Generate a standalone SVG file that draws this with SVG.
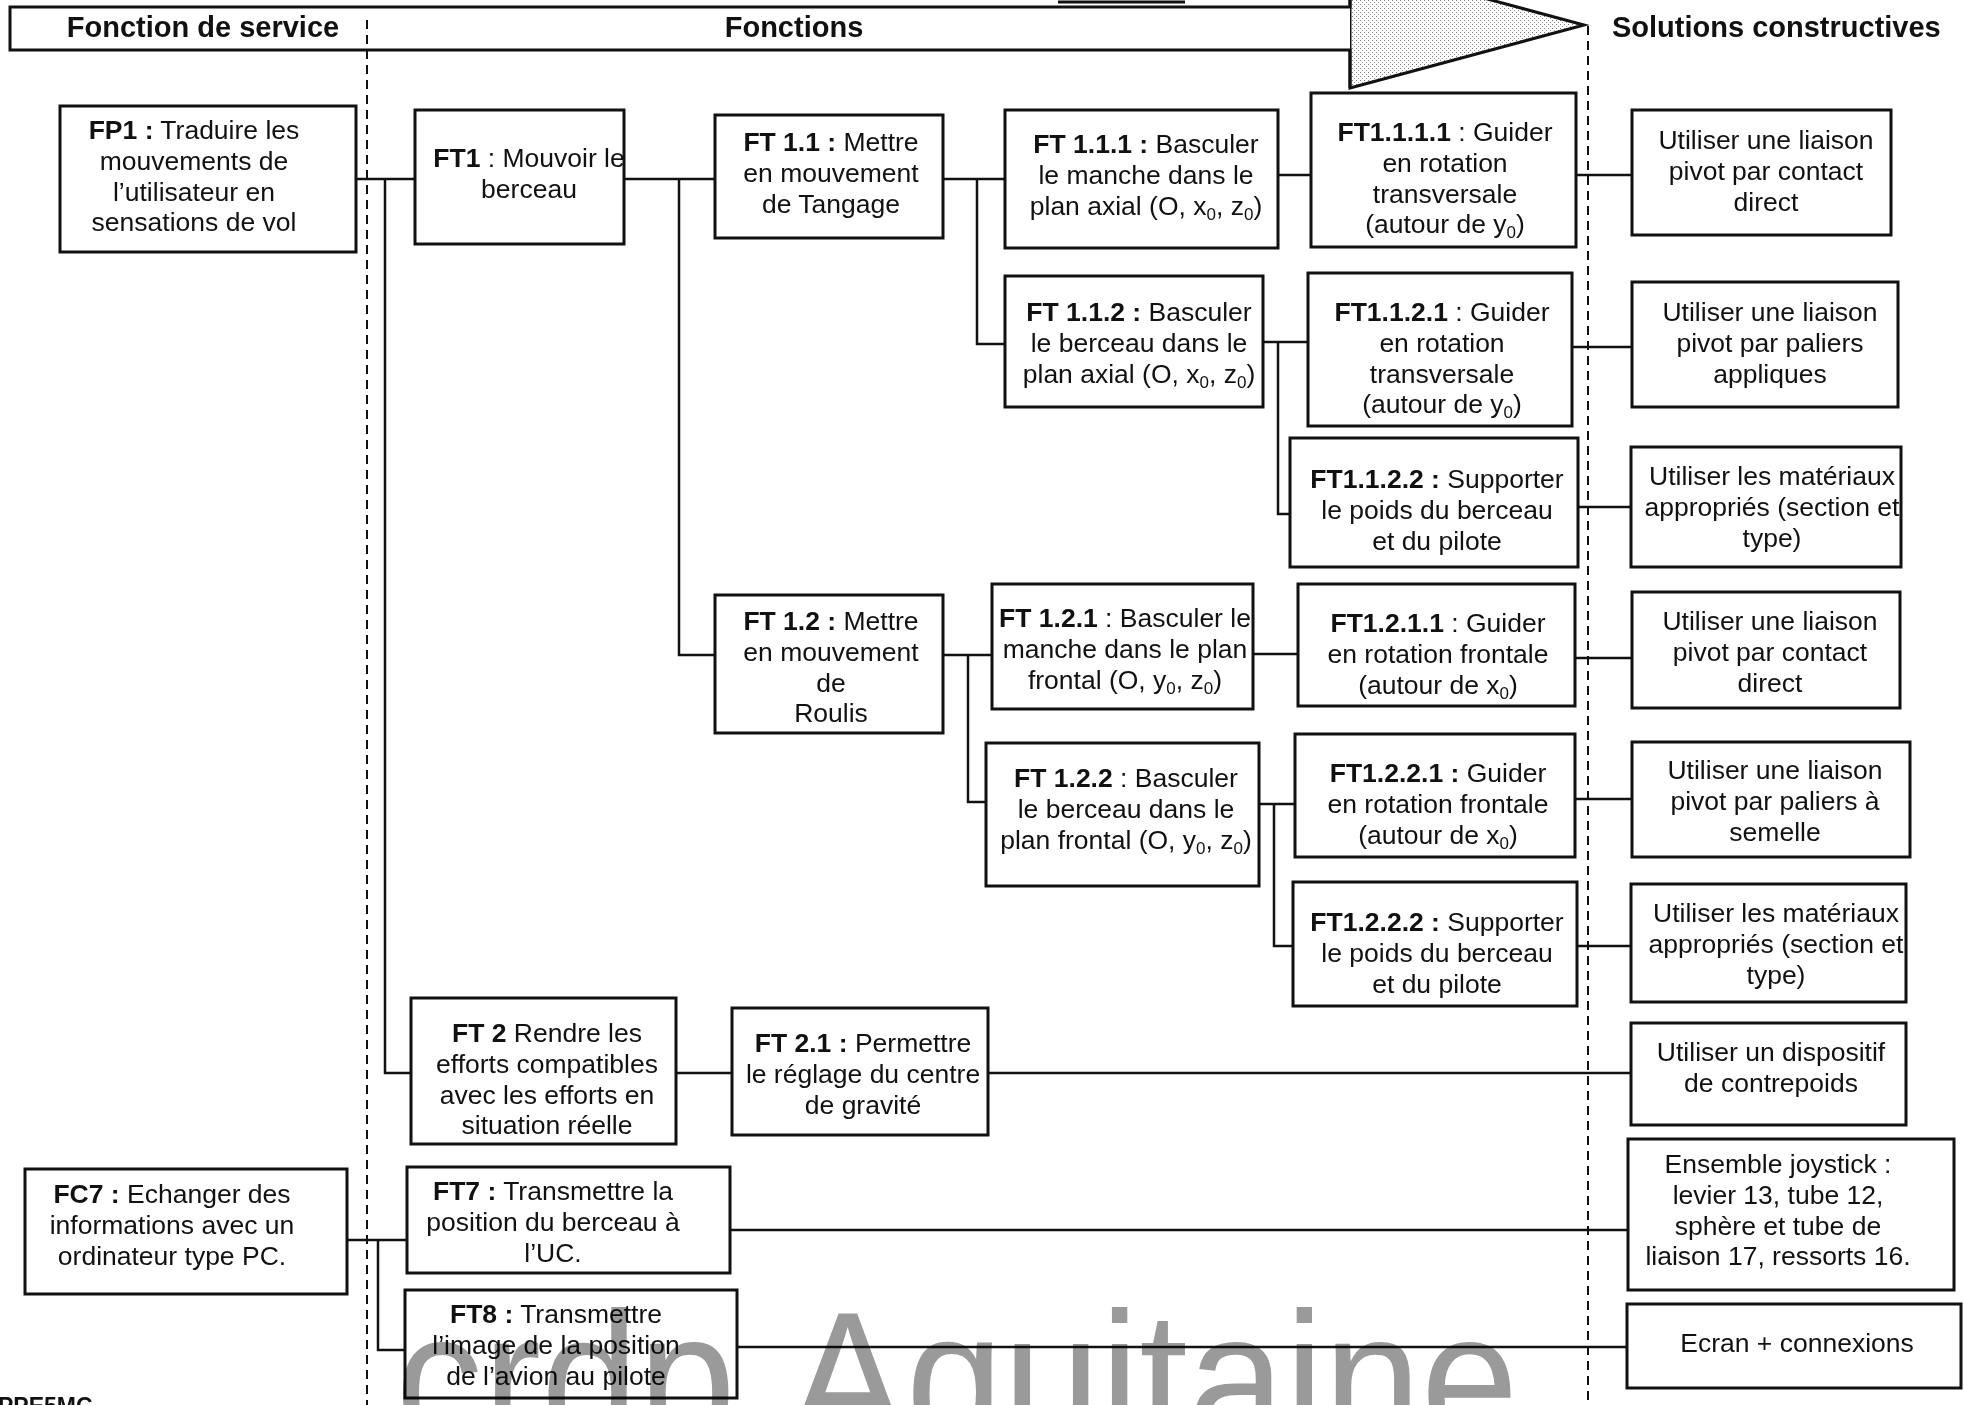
<svg xmlns="http://www.w3.org/2000/svg" width="1964" height="1405" viewBox="0 0 1964 1405">
<style>
.bx{fill:#fff;stroke:#111;stroke-width:3}
.t{font-family:"Liberation Sans",Arial,sans-serif;font-size:26.5px;text-anchor:middle;fill:#111}
.b{font-weight:bold}
.sub{font-size:17px}
.h{font-family:"Liberation Sans",Arial,sans-serif;font-size:29px;font-weight:bold;fill:#111}
.c{fill:none;stroke:#111;stroke-width:2.5}
.d{fill:none;stroke:#111;stroke-width:2;stroke-dasharray:9 6}
.wm{font-family:"Liberation Sans",Arial,sans-serif;font-size:190px;fill:#9a9a9a;mix-blend-mode:multiply}
</style>
<defs>
<pattern id="stip" width="4" height="4" patternUnits="userSpaceOnUse">
<rect width="4" height="4" fill="#fff"/>
<rect x="0" y="0" width="1" height="1" fill="#777"/>
<rect x="2" y="2" width="1" height="1" fill="#999"/>
</pattern>
</defs>
<rect width="1964" height="1405" fill="#fff"/>

<g id="header">
<polygon points="1350,-38 1584,25 1350,88" fill="url(#stip)" stroke="#111" stroke-width="3"/>
<path d="M1350,-38 L1350,7 L10,7 L10,50 L1350,50 L1350,88" fill="#fff" stroke="#111" stroke-width="3"/>
<line x1="1058" y1="2" x2="1185" y2="2" stroke="#111" stroke-width="3"/>
<text class="h" x="203" y="37" text-anchor="middle">Fonction de service</text>
<text class="h" x="794" y="37" text-anchor="middle">Fonctions</text>
<text class="h" x="1612" y="37">Solutions constructives</text>
<line class="d" x1="367" y1="20" x2="367" y2="1405"/>
<line class="d" x1="1588" y1="26" x2="1588" y2="1405"/>
</g>

<g id="connectors">
<path class="c" d="M356,179 H415 M385,179 V1073 H411"/>
<path class="c" d="M624,179 H715 M679,179 V655 H715"/>
<path class="c" d="M943,179 H1005 M977,179 V344 H1005"/>
<path class="c" d="M1278,175 H1311"/>
<path class="c" d="M1576,175 H1632"/>
<path class="c" d="M1263,342 H1308 M1278,342 V514 H1290"/>
<path class="c" d="M1572,347 H1632"/>
<path class="c" d="M1578,507 H1631"/>
<path class="c" d="M943,655 H992 M968,655 V802 H986"/>
<path class="c" d="M1253,654 H1298"/>
<path class="c" d="M1575,658 H1632"/>
<path class="c" d="M1259,804 H1295 M1274,804 V946 H1293"/>
<path class="c" d="M1575,799 H1632"/>
<path class="c" d="M1577,946 H1631"/>
<path class="c" d="M676,1073 H732"/>
<path class="c" d="M988,1073 H1631"/>
<path class="c" d="M347,1240 H407 M378,1240 V1350 H405"/>
<path class="c" d="M730,1230 H1628"/>
<path class="c" d="M737,1347 H1627"/>
</g>

<g id="FP1"><rect class="bx" x="60" y="106" width="296" height="146"/>
<text class="t" x="194" y="139"><tspan class="b">FP1 :</tspan> Traduire les</text>
<text class="t" x="194" y="170">mouvements de</text>
<text class="t" x="194" y="201">l’utilisateur en</text>
<text class="t" x="194" y="231">sensations de vol</text></g>

<g id="FT1"><rect class="bx" x="415" y="110" width="209" height="134"/>
<text class="t" x="529" y="167"><tspan class="b">FT1</tspan> : Mouvoir le</text>
<text class="t" x="529" y="198">berceau</text></g>

<g id="FT1.1"><rect class="bx" x="715" y="115" width="228" height="123"/>
<text class="t" x="831" y="151"><tspan class="b">FT 1.1 :</tspan> Mettre</text>
<text class="t" x="831" y="182">en mouvement</text>
<text class="t" x="831" y="213">de Tangage</text></g>

<g id="FT1.1.1"><rect class="bx" x="1005" y="110" width="273" height="138"/>
<text class="t" x="1146" y="153"><tspan class="b">FT 1.1.1 :</tspan> Basculer</text>
<text class="t" x="1146" y="184">le manche dans le</text>
<text class="t" x="1146" y="215">plan axial (O, x<tspan class="sub" dy="5">0</tspan><tspan dy="-5">, z</tspan><tspan class="sub" dy="5">0</tspan><tspan dy="-5">)</tspan></text></g>

<g id="FT1.1.1.1"><rect class="bx" x="1311" y="93" width="265" height="154"/>
<text class="t" x="1445" y="141"><tspan class="b">FT1.1.1.1</tspan> : Guider</text>
<text class="t" x="1445" y="172">en rotation</text>
<text class="t" x="1445" y="203">transversale</text>
<text class="t" x="1445" y="233">(autour de y<tspan class="sub" dy="5">0</tspan><tspan dy="-5">)</tspan></text></g>

<g id="S1"><rect class="bx" x="1632" y="110" width="259" height="125"/>
<text class="t" x="1766" y="149">Utiliser une liaison</text>
<text class="t" x="1766" y="180">pivot par contact</text>
<text class="t" x="1766" y="211">direct</text></g>

<g id="FT1.1.2"><rect class="bx" x="1005" y="276" width="258" height="131"/>
<text class="t" x="1139" y="321"><tspan class="b">FT 1.1.2 :</tspan> Basculer</text>
<text class="t" x="1139" y="352">le berceau dans le</text>
<text class="t" x="1139" y="383">plan axial (O, x<tspan class="sub" dy="5">0</tspan><tspan dy="-5">, z</tspan><tspan class="sub" dy="5">0</tspan><tspan dy="-5">)</tspan></text></g>

<g id="FT1.1.2.1"><rect class="bx" x="1308" y="273" width="264" height="153"/>
<text class="t" x="1442" y="321"><tspan class="b">FT1.1.2.1</tspan> : Guider</text>
<text class="t" x="1442" y="352">en rotation</text>
<text class="t" x="1442" y="383">transversale</text>
<text class="t" x="1442" y="413">(autour de y<tspan class="sub" dy="5">0</tspan><tspan dy="-5">)</tspan></text></g>

<g id="S2"><rect class="bx" x="1632" y="282" width="266" height="125"/>
<text class="t" x="1770" y="321">Utiliser une liaison</text>
<text class="t" x="1770" y="352">pivot par paliers</text>
<text class="t" x="1770" y="383">appliques</text></g>

<g id="FT1.1.2.2"><rect class="bx" x="1290" y="438" width="288" height="129"/>
<text class="t" x="1437" y="488"><tspan class="b">FT1.1.2.2 :</tspan> Supporter</text>
<text class="t" x="1437" y="519">le poids du berceau</text>
<text class="t" x="1437" y="550">et du pilote</text></g>

<g id="S3"><rect class="bx" x="1631" y="447" width="270" height="120"/>
<text class="t" x="1772" y="485">Utiliser les matériaux</text>
<text class="t" x="1772" y="516">appropriés (section et</text>
<text class="t" x="1772" y="547">type)</text></g>

<g id="FT1.2"><rect class="bx" x="715" y="595" width="228" height="138"/>
<text class="t" x="831" y="630"><tspan class="b">FT 1.2 :</tspan> Mettre</text>
<text class="t" x="831" y="661">en mouvement</text>
<text class="t" x="831" y="692">de</text>
<text class="t" x="831" y="722">Roulis</text></g>

<g id="FT1.2.1"><rect class="bx" x="992" y="584" width="261" height="125"/>
<text class="t" x="1125" y="627"><tspan class="b">FT 1.2.1</tspan> : Basculer le</text>
<text class="t" x="1125" y="658">manche dans le plan</text>
<text class="t" x="1125" y="689">frontal (O, y<tspan class="sub" dy="5">0</tspan><tspan dy="-5">, z</tspan><tspan class="sub" dy="5">0</tspan><tspan dy="-5">)</tspan></text></g>

<g id="FT1.2.1.1"><rect class="bx" x="1298" y="584" width="277" height="122"/>
<text class="t" x="1438" y="632"><tspan class="b">FT1.2.1.1</tspan> : Guider</text>
<text class="t" x="1438" y="663">en rotation frontale</text>
<text class="t" x="1438" y="694">(autour de x<tspan class="sub" dy="5">0</tspan><tspan dy="-5">)</tspan></text></g>

<g id="S4"><rect class="bx" x="1632" y="592" width="268" height="116"/>
<text class="t" x="1770" y="630">Utiliser une liaison</text>
<text class="t" x="1770" y="661">pivot par contact</text>
<text class="t" x="1770" y="692">direct</text></g>

<g id="FT1.2.2"><rect class="bx" x="986" y="743" width="273" height="143"/>
<text class="t" x="1126" y="787"><tspan class="b">FT 1.2.2</tspan> : Basculer</text>
<text class="t" x="1126" y="818">le berceau dans le</text>
<text class="t" x="1126" y="849">plan frontal (O, y<tspan class="sub" dy="5">0</tspan><tspan dy="-5">, z</tspan><tspan class="sub" dy="5">0</tspan><tspan dy="-5">)</tspan></text></g>

<g id="FT1.2.2.1"><rect class="bx" x="1295" y="734" width="280" height="123"/>
<text class="t" x="1438" y="782"><tspan class="b">FT1.2.2.1 :</tspan> Guider</text>
<text class="t" x="1438" y="813">en rotation frontale</text>
<text class="t" x="1438" y="844">(autour de x<tspan class="sub" dy="5">0</tspan><tspan dy="-5">)</tspan></text></g>

<g id="S5"><rect class="bx" x="1632" y="742" width="278" height="115"/>
<text class="t" x="1775" y="779">Utiliser une liaison</text>
<text class="t" x="1775" y="810">pivot par paliers à</text>
<text class="t" x="1775" y="841">semelle</text></g>

<g id="FT1.2.2.2"><rect class="bx" x="1293" y="882" width="284" height="124"/>
<text class="t" x="1437" y="931"><tspan class="b">FT1.2.2.2 :</tspan> Supporter</text>
<text class="t" x="1437" y="962">le poids du berceau</text>
<text class="t" x="1437" y="993">et du pilote</text></g>

<g id="S6"><rect class="bx" x="1631" y="884" width="275" height="118"/>
<text class="t" x="1776" y="922">Utiliser les matériaux</text>
<text class="t" x="1776" y="953">appropriés (section et</text>
<text class="t" x="1776" y="984">type)</text></g>

<g id="FT2"><rect class="bx" x="411" y="998" width="265" height="146"/>
<text class="t" x="547" y="1042"><tspan class="b">FT 2</tspan> Rendre les</text>
<text class="t" x="547" y="1073">efforts compatibles</text>
<text class="t" x="547" y="1104">avec les efforts en</text>
<text class="t" x="547" y="1134">situation réelle</text></g>

<g id="FT2.1"><rect class="bx" x="732" y="1008" width="256" height="127"/>
<text class="t" x="863" y="1052"><tspan class="b">FT 2.1 :</tspan> Permettre</text>
<text class="t" x="863" y="1083">le réglage du centre</text>
<text class="t" x="863" y="1114">de gravité</text></g>

<g id="S7"><rect class="bx" x="1631" y="1023" width="275" height="102"/>
<text class="t" x="1771" y="1061">Utiliser un dispositif</text>
<text class="t" x="1771" y="1092">de contrepoids</text></g>

<g id="FC7"><rect class="bx" x="25" y="1169" width="322" height="125"/>
<text class="t" x="172" y="1203"><tspan class="b">FC7 :</tspan> Echanger des</text>
<text class="t" x="172" y="1234">informations avec un</text>
<text class="t" x="172" y="1265">ordinateur type PC.</text></g>

<g id="FT7"><rect class="bx" x="407" y="1167" width="323" height="106"/>
<text class="t" x="553" y="1200"><tspan class="b">FT7 :</tspan> Transmettre la</text>
<text class="t" x="553" y="1231">position du berceau à</text>
<text class="t" x="553" y="1262">l’UC.</text></g>

<g id="S8"><rect class="bx" x="1628" y="1139" width="326" height="151"/>
<text class="t" x="1778" y="1173">Ensemble joystick :</text>
<text class="t" x="1778" y="1204">levier 13, tube 12,</text>
<text class="t" x="1778" y="1235">sphère et tube de</text>
<text class="t" x="1778" y="1265">liaison 17, ressorts 16.</text></g>

<g id="FT8"><rect class="bx" x="405" y="1290" width="332" height="108"/>
<text class="t" x="556" y="1323"><tspan class="b">FT8 :</tspan> Transmettre</text>
<text class="t" x="556" y="1354">l’image de la position</text>
<text class="t" x="556" y="1385">de l’avion au pilote</text></g>

<g id="S9"><rect class="bx" x="1627" y="1304" width="334" height="84"/>
<text class="t" x="1797" y="1352">Ecran + connexions</text></g>

<text x="-2" y="1414" font-family="'Liberation Sans',Arial,sans-serif" font-size="23" font-weight="bold" fill="#111">PPE5MC</text>
<text class="wm" transform="scale(0.92,1)" y="1444"><tspan x="430">crdp</tspan><tspan x="858">Aquitaine</tspan></text>
</svg>
